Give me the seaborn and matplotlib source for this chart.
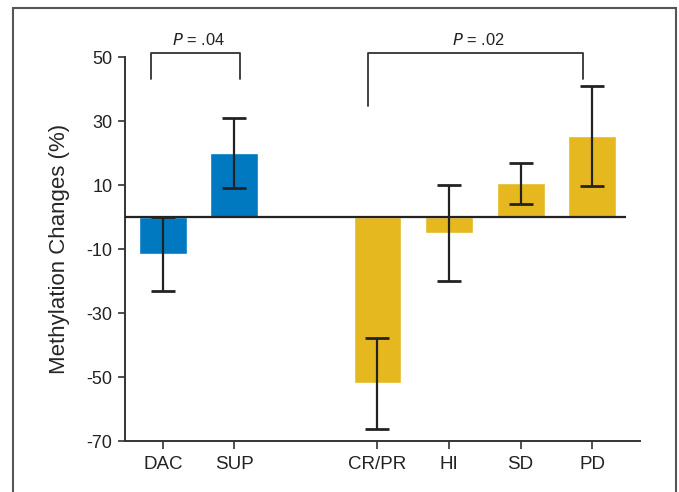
import matplotlib
matplotlib.use("Agg")
import matplotlib.pyplot as plt
import seaborn as sns
import pandas as pd
import numpy as np
from matplotlib.patches import Rectangle

categories = ["DAC", "SUP", "CR/PR", "HI", "SD", "PD"]
groups = ["treat", "treat", "resp", "resp", "resp", "resp"]
means = [-11.5, 20.0, -52.0, -5.0, 10.5, 25.3]
errors = [11.5, 11.0, 14.2, 15.0, 6.4, 15.7]
yticks = [50, 30, 10, -10, -30, -50, -70]
pvals = ["$P$ = .04", "$P$ = .02"]

sns.set_style("white")
plt.rcParams["font.family"] = ["Liberation Sans Narrow", "Liberation Sans", "DejaVu Sans"]

# layout: gap between the two groups
pos = np.array([0, 1, 3, 4, 5, 6], dtype=float)

df = pd.DataFrame({"pos": pos, "val": means, "grp": groups, "cat": categories})

fig = plt.figure(figsize=(6.79, 4.92), dpi=100)
ax = fig.add_axes([125 / 679, 51 / 492, 515 / 679, 384 / 492])

sns.barplot(data=df, x="pos", y="val", hue="grp", native_scale=True,
            palette={"treat": "#0079C1", "resp": "#E6B820"}, width=0.67,
            dodge=False, legend=False, ax=ax, errorbar=None, saturation=1)

ax.errorbar(pos, means, yerr=errors, fmt="none", ecolor="#222222",
            elinewidth=1.6, capsize=8.5, capthick=2.0, zorder=5)

ax.plot([-0.53, 6.48], [0, 0], color="#222222", lw=1.6, zorder=4, solid_capstyle="butt")

ax.set_xlim(-0.53, 6.67)
ax.set_ylim(-70, 50)
ax.set_xticks(pos)
ax.set_xticklabels(categories, fontsize=13.5)
ax.set_yticks(yticks)
ax.set_yticklabels([str(t) for t in yticks], fontsize=13)
ax.set_xlabel("")
ax.set_ylabel("Methylation Changes (%)", fontsize=16, labelpad=12)

for side in ["top", "right"]:
    ax.spines[side].set_visible(False)
for side in ["left", "bottom"]:
    ax.spines[side].set_color("#333333")
    ax.spines[side].set_linewidth(1.4)
ax.tick_params(axis="both", direction="out", length=5, width=1.2,
               color="#333333", left=True, bottom=True, pad=4, labelcolor="#222222")
ax.tick_params(axis="x", length=6, pad=5)

# significance brackets
def bracket(x0, x1, yl, yr, ytop, text):
    ax.plot([x0, x0, x1, x1], [yl, ytop, ytop, yr], color="#333333", lw=1.3,
            clip_on=False, zorder=6)
    ax.text((x0 + x1) / 2 + 0.04, ytop + 2.4, text, ha="center", va="baseline",
            fontsize=11.8, color="#222222", clip_on=False)

bracket(-0.16, 1.08, 43.2, 43.2, 51.3, pvals[0])
bracket(2.87, 5.87, 34.7, 43.2, 51.3, pvals[1])

# outer frame
fig.patches.append(Rectangle((13 / 679, -0.05), 663 / 679, 1.05 - 8 / 492,
                             transform=fig.transFigure, fill=False,
                             edgecolor="#555555", lw=1.5, clip_on=False))

fig.savefig("out.png", dpi=100)
